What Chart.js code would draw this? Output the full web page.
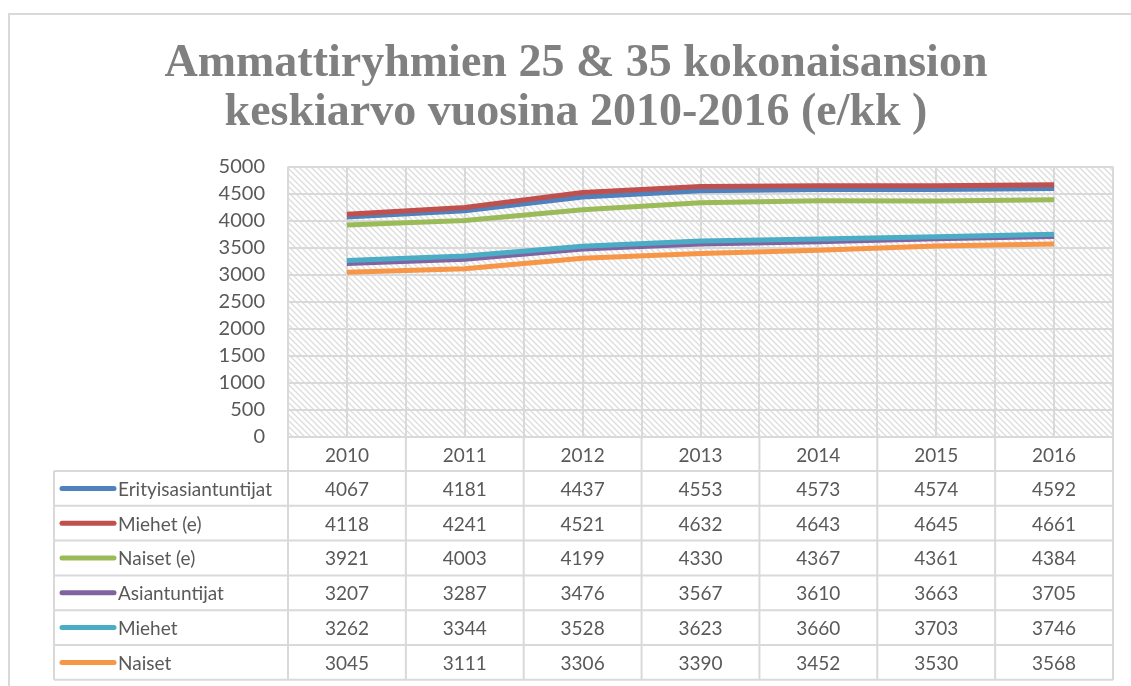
<!DOCTYPE html>
<html>
<head>
<meta charset="utf-8">
<script src="https://cdn.jsdelivr.net/npm/chart.js@4.4.1/dist/chart.umd.min.js"></script>
<style>
html,body{margin:0;padding:0;background:#fff;}
#wrap{position:relative;width:1131px;height:686px;overflow:hidden;}
#frame{position:absolute;left:8px;top:13px;width:1300px;height:900px;border-left:2px solid #d9d9d9;border-top:2px solid #d9d9d9;box-sizing:border-box;}
#c{position:absolute;left:0;top:0;}
.cell{position:absolute;display:flex;align-items:center;justify-content:center;font-family:Lato,"Open Sans",sans-serif;font-size:19px;color:#595959;white-space:nowrap;}
.lab{justify-content:flex-start;}
</style>
</head>
<body>
<div id="wrap">
  <div id="frame"></div>
  <canvas id="c" width="1131" height="686"></canvas>
  <div id="cells"></div>
</div>
<script>
// ---- data ----
const years = ['2010','2011','2012','2013','2014','2015','2016'];
const seriesNames = ['Erityisasiantuntijat','Miehet (e)','Naiset (e)','Asiantuntijat','Miehet','Naiset'];
const erityisasiantuntijat = [4067,4181,4437,4553,4573,4574,4592];
const miehetE = [4118,4241,4521,4632,4643,4645,4661];
const naisetE = [3921,4003,4199,4330,4367,4361,4384];
const asiantuntijat = [3207,3287,3476,3567,3610,3663,3705];
const miehet = [3262,3344,3528,3623,3660,3703,3746];
const naiset = [3045,3111,3306,3390,3452,3530,3568];
const seriesValues = [erityisasiantuntijat, miehetE, naisetE, asiantuntijat, miehet, naiset];
const seriesColors = ['#4f81bd','#c0504d','#9bbb59','#8064a2','#4bacc6','#f79646'];
const titleLines = ['Ammattiryhmien 25 & 35 kokonaisansion','keskiarvo vuosina 2010-2016 (e/kk )'];
const yMin = 0, yMax = 5000, yStep = 500;

// ---- layout constants ----
const GRID = '#d9d9d9';
const TABLE_LEFT = 54;
const HEADER_H = 34;
const ROW_H = 34.8;

function hatchPattern(ctx){
  const t = document.createElement('canvas');
  t.width = 6; t.height = 6;
  const g = t.getContext('2d');
  g.strokeStyle = '#dcdcdc';
  g.lineWidth = 1.3;
  g.beginPath();
  g.moveTo(-1,-1); g.lineTo(7,7);
  g.moveTo(-4,2); g.lineTo(4,10);
  g.moveTo(2,-4); g.lineTo(10,4);
  g.stroke();
  return ctx.createPattern(t,'repeat');
}

const hatchPlugin = {
  id:'hatch',
  beforeDraw(chart){
    const {ctx, chartArea:a} = chart;
    ctx.save();
    ctx.fillStyle = hatchPattern(ctx);
    ctx.fillRect(a.left, a.top, a.right-a.left, a.bottom-a.top);
    ctx.restore();
  }
};

const tablePlugin = {
  id:'dataTable',
  afterDraw(chart){
    const {ctx, chartArea:a} = chart;
    const xs = chart.scales.x;
    const B = a.bottom;
    const rowsTop = B + HEADER_H;
    const bottom = rowsTop + ROW_H*seriesNames.length;
    ctx.save();
    ctx.strokeStyle = GRID;
    ctx.lineWidth = 2;
    ctx.beginPath();
    ctx.moveTo(a.left, B); ctx.lineTo(a.right, B);
    for(let k=0;k<=seriesNames.length;k++){
      const y = rowsTop + k*ROW_H;
      ctx.moveTo(TABLE_LEFT, y); ctx.lineTo(a.right, y);
    }
    ctx.moveTo(TABLE_LEFT, rowsTop); ctx.lineTo(TABLE_LEFT, bottom);
    for(let i=0;i<=years.length;i++){
      const x = xs.getPixelForValue(i-0.5);
      ctx.moveTo(x, B); ctx.lineTo(x, bottom);
    }
    ctx.stroke();
    ctx.lineWidth = 5;
    ctx.lineCap = 'round';
    seriesNames.forEach((n,k)=>{
      const y = rowsTop + (k+0.5)*ROW_H;
      ctx.strokeStyle = seriesColors[k];
      ctx.beginPath();
      ctx.moveTo(TABLE_LEFT+8, y); ctx.lineTo(TABLE_LEFT+60, y);
      ctx.stroke();
    });
    ctx.restore();
  }
};

const datasets = seriesNames.map((n,k)=>({
  label:n,
  data: seriesValues[k].map((v,i)=>({x:i, y:v})),
  borderColor: seriesColors[k],
  backgroundColor: seriesColors[k],
  borderWidth: 5,
  pointRadius: 0,
  tension: 0,
  fill:false,
  order: seriesNames.length - k
}));

const chart = new Chart(document.getElementById('c'), {
  type:'line',
  data:{datasets},
  options:{
    responsive:false,
    animation:false,
    layout:{padding:{left:39,right:18,top:0,bottom:249}},
    plugins:{
      legend:{display:false},
      tooltip:{enabled:false},
      title:{
        display:true,
        text:titleLines,
        color:'#808080',
        font:{family:'"Liberation Serif", serif', size:46, weight:'bold', lineHeight:1.06},
        padding:{top:40,bottom:29}
      }
    },
    scales:{
      x:{
        type:'linear',
        min:-0.5, max:years.length-0.5,
        ticks:{display:false, stepSize:0.5},
        grid:{color:GRID, lineWidth:2, drawTicks:false},
        border:{display:false},
        afterFit(s){ s.height = 0; }
      },
      y:{
        min:yMin, max:yMax,
        ticks:{stepSize:yStep, color:'#595959', padding:23, font:{family:'Lato, sans-serif', size:20},
               callback:(v)=>String(v)},
        grid:{color:GRID, lineWidth:2, drawTicks:false},
        border:{display:false},
        afterFit(s){ s.width = 249; }
      }
    }
  },
  plugins:[hatchPlugin, tablePlugin]
});

// ---- table text as HTML ----
(function buildCells(){
  const a = chart.chartArea;
  const xs = chart.scales.x;
  const holder = document.getElementById('cells');
  const rowsTop = a.bottom + HEADER_H;
  function cell(text, left, top, w, h, cls){
    const d = document.createElement('div');
    d.className = 'cell' + (cls ? ' '+cls : '');
    d.style.left = left+'px'; d.style.top = top+'px';
    d.style.width = w+'px'; d.style.height = h+'px';
    d.textContent = text;
    holder.appendChild(d);
  }
  years.forEach((yr,i)=>{
    const l = xs.getPixelForValue(i-0.5), r = xs.getPixelForValue(i+0.5);
    cell(yr, l, a.bottom, r-l, HEADER_H);
  });
  seriesNames.forEach((n,k)=>{
    const top = rowsTop + k*ROW_H;
    cell(n, TABLE_LEFT+64, top, a.left-TABLE_LEFT-64, ROW_H, 'lab');
    seriesValues[k].forEach((v,i)=>{
      const l = xs.getPixelForValue(i-0.5), r = xs.getPixelForValue(i+0.5);
      cell(String(v), l, top, r-l, ROW_H);
    });
  });
})();
</script>
</body>
</html>
